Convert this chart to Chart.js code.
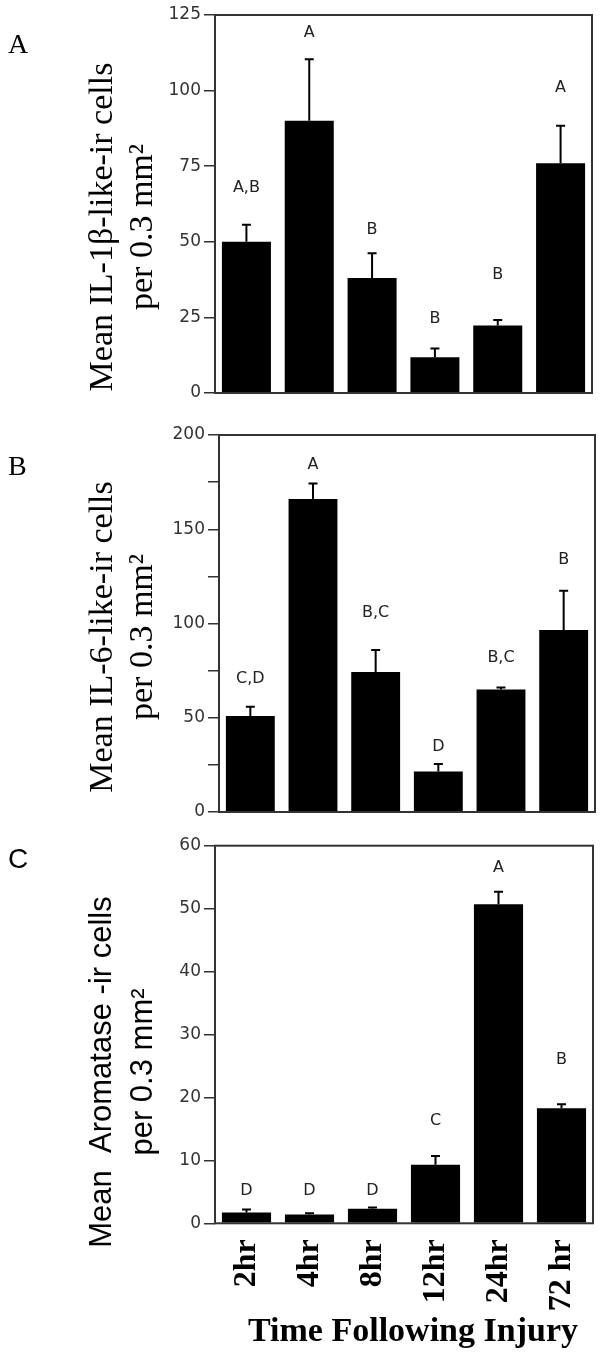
<!DOCTYPE html>
<html>
<head>
<meta charset="utf-8">
<script src="https://cdn.jsdelivr.net/npm/chart.js@4.4.3/dist/chart.umd.min.js"></script>
<style>
  html, body { margin: 0; padding: 0; background: #fff; }
  #wrap { position: relative; width: 600px; height: 1358px; overflow: hidden; }
  #wrap canvas { position: absolute; left: 0; }
</style>
</head>
<body>
<div id="wrap">
  <canvas id="chartA" width="600" height="420" style="top:0px"></canvas>
  <canvas id="chartB" width="600" height="410" style="top:420px"></canvas>
  <canvas id="chartC" width="600" height="533" style="top:825px"></canvas>
</div>
<script>
// time points after injury
const timeLabels = ['2hr', '4hr', '8hr', '12hr', '24hr', '72 hr'];

// A: IL-1beta
const il1Mean = [50, 90, 38, 11.8, 22.3, 76];
const il1Err = [5.6, 20.4, 8.2, 2.9, 1.8, 12.4];
const il1Letters = ['A,B', 'A', 'B', 'B', 'B', 'A'];
const il1LetterAt = [68, 119, 54, 24.5, 39, 101];
const il1Ticks = [0, 25, 50, 75, 100, 125];

// B: IL-6
const il6Mean = [50.9, 166, 74.3, 21.5, 65, 96.6];
const il6Err = [5, 8.3, 11.7, 3.9, 1, 20.8];
const il6Letters = ['C,D', 'A', 'B,C', 'D', 'B,C', 'B'];
const il6LetterAt = [70.4, 184, 105.5, 34.6, 82, 134];
const il6Ticks = [0, 50, 100, 150, 200];

// C: aromatase
const aroMean = [1.7, 1.4, 2.3, 9.3, 50.7, 18.3];
const aroErr = [0.5, 0.2, 0.2, 1.4, 2, 0.6];
const aroLetters = ['D', 'D', 'D', 'C', 'A', 'B'];
const aroLetterAt = [5.2, 5.2, 5.2, 16.3, 56.5, 25.9];
const aroTicks = [0, 10, 20, 30, 40, 50, 60];

// frame, error bars, letters, titles
const decor = {
  id: 'decor',
  afterDatasetsDraw(chart, args, o) {
    const { ctx, chartArea: a, scales: { x, y } } = chart;
    const vals = chart.data.datasets[0].data;
    ctx.save();
    ctx.strokeStyle = '#000'; ctx.lineWidth = 2;
    vals.forEach((v, i) => {
      const bx = x.getPixelForValue(i);
      const y0 = y.getPixelForValue(v), y1 = y.getPixelForValue(v + o.err[i]);
      ctx.beginPath();
      ctx.moveTo(bx, y0); ctx.lineTo(bx, y1);
      ctx.moveTo(bx - 4.5, y1); ctx.lineTo(bx + 4.5, y1);
      ctx.stroke();
    });
    ctx.strokeStyle = '#333'; ctx.lineWidth = 2;
    ctx.strokeRect(a.left, a.top, a.right - a.left, a.bottom - a.top);

    ctx.fillStyle = '#222';
    ctx.font = '16px "DejaVu Sans"';
    ctx.textAlign = 'center'; ctx.textBaseline = 'middle';
    o.letters.forEach((t, i) => ctx.fillText(t, x.getPixelForValue(i), y.getPixelForValue(o.letterAt[i])));

    // y title (two lines, rotated)
    ctx.fillStyle = '#000';
    ctx.font = o.titleFont;
    ctx.textBaseline = 'alphabetic';
    o.title.forEach((t, i) => {
      ctx.save();
      ctx.translate(o.titleX[i], o.titleY - o.top);
      ctx.rotate(-Math.PI / 2);
      ctx.fillText(t, 0, 0);
      ctx.restore();
    });
    // panel letter
    ctx.font = o.panelFont; ctx.textAlign = 'left';
    ctx.fillText(o.panel, 8, o.panelY - o.top);
    if (o.xTitle) {
      ctx.font = 'bold 34px "Liberation Serif"'; ctx.textAlign = 'center';
      ctx.fillText(o.xTitle, 413, 1341 - o.top);
    }
    ctx.restore();
  }
};

function panel(id, c) {
  return new Chart(document.getElementById(id), {
    type: 'bar',
    data: {
      labels: timeLabels,
      datasets: [{ data: c.mean, backgroundColor: '#000', borderWidth: 0, barPercentage: 0.78, categoryPercentage: 1 }]
    },
    options: {
      responsive: false, animation: false, devicePixelRatio: 1,
      layout: { padding: c.pad },
      plugins: {
        legend: { display: false }, tooltip: { enabled: false },
        decor: c.decor
      },
      scales: {
        x: c.showX ? {
          grid: { display: false, drawTicks: false }, border: { display: false },
          ticks: { autoSkip: false, minRotation: 90, maxRotation: 90, padding: 16, color: '#000',
                   font: { family: 'Liberation Serif', size: 32, weight: 'bold' } },
          afterFit: s => { s.height = c.xHeight; s.paddingLeft = 0; s.paddingRight = 0; }
        } : { display: false },
        y: {
          min: 0, max: c.max,
          afterBuildTicks: s => { s.ticks = c.minor.map(v => ({ value: v })); },
          ticks: { color: '#333', padding: 3, font: { family: 'DejaVu Sans', size: 17 },
                   callback: v => c.ticks.includes(v) ? v : '' },
          grid: { drawOnChartArea: false, drawTicks: true, tickLength: 11, color: '#333', lineWidth: 1.5 },
          border: { display: false },
          afterFit: s => { s.width = 60; }
        }
      }
    },
    plugins: [decor]
  });
}

panel('chartA', {
  mean: il1Mean, max: 125, ticks: il1Ticks, minor: il1Ticks,
  pad: { left: 155, right: 8, top: 15, bottom: 27 },
  decor: { err: il1Err, letters: il1Letters, letterAt: il1LetterAt, top: 0,
           title: ['Mean IL-1\u03b2-like-ir cells', 'per 0.3 mm\u00b2'], titleFont: '34px "Liberation Serif"',
           titleX: [112, 152], titleY: 227, panel: 'A', panelFont: '28px "Liberation Serif"', panelY: 53 }
});

panel('chartB', {
  mean: il6Mean, max: 200, ticks: il6Ticks, minor: [0, 25, 50, 75, 100, 125, 150, 175, 200],
  pad: { left: 159, right: 5, top: 15, bottom: 18 },
  decor: { err: il6Err, letters: il6Letters, letterAt: il6LetterAt, top: 420,
           title: ['Mean IL-6-like-ir cells', 'per 0.3 mm\u00b2'], titleFont: '34px "Liberation Serif"',
           titleX: [112, 152], titleY: 637, panel: 'B', panelFont: '28px "Liberation Serif"', panelY: 475 }
});

panel('chartC', {
  mean: aroMean, max: 60, ticks: aroTicks, minor: aroTicks, showX: true, xHeight: 134.7,
  pad: { left: 155, right: 7, top: 20.7, bottom: 0 },
  decor: { err: aroErr, letters: aroLetters, letterAt: aroLetterAt, top: 825,
           title: ['Mean  Aromatase -ir cells', 'per 0.3 mm\u00b2'], titleFont: '31px "Liberation Sans"',
           titleX: [111, 152], titleY: 1072, panel: 'C', panelFont: '28px "Liberation Sans"', panelY: 868,
           xTitle: 'Time Following Injury' }
});
</script>
</body>
</html>
